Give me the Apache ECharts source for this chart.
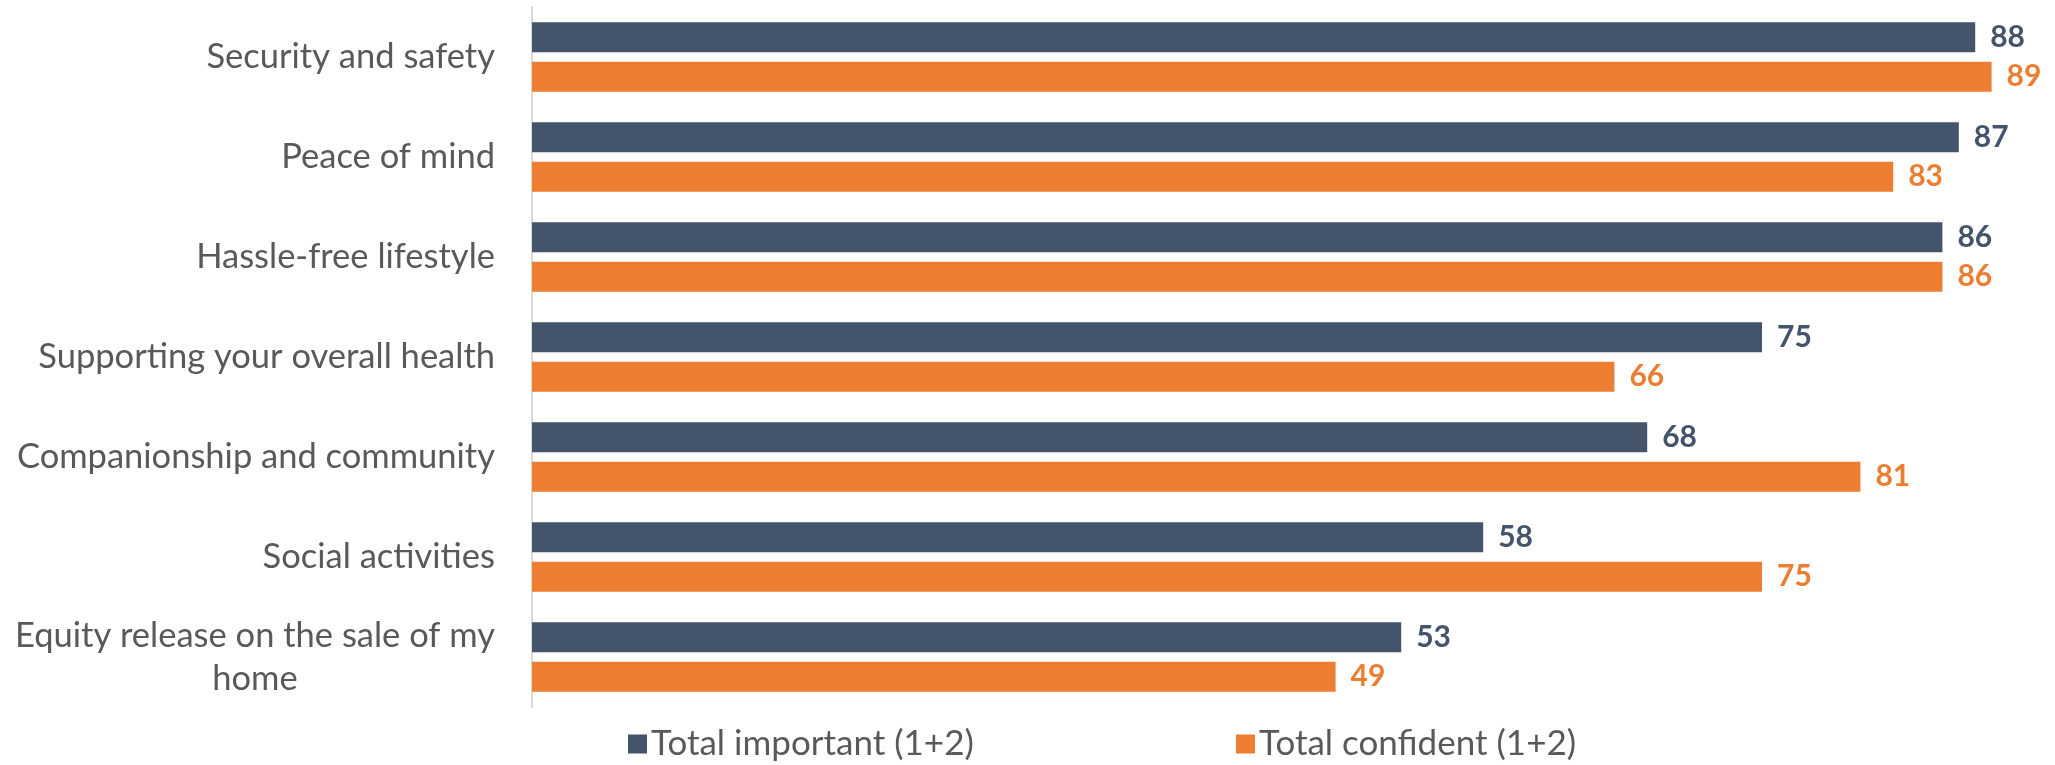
<!DOCTYPE html>
<html>
<head>
<meta charset="utf-8">
<script src="https://cdn.jsdelivr.net/npm/echarts@6/dist/echarts.min.js"></script>
<style>
html,body{margin:0;padding:0;background:#fff;}
#chart{width:2055px;height:765px;}
</style>
</head>
<body>
<div id="chart"></div>
<script>
const categories = [
  'Security and safety',
  'Peace of mind',
  'Hassle-free lifestyle',
  'Supporting your overall health',
  'Companionship and community',
  'Social activities',
  'Equity release on the sale of my\nhome'
];
const seriesNames = ['Total important (1+2)', 'Total confident (1+2)'];
const important = [88, 87, 86, 75, 68, 58, 53];
const confident = [89, 83, 86, 66, 81, 75, 49];

const DARK = '#44546A';
const ORANGE = '#ED7D31';
const TEXT = '#595959';
const FONT = 'Lato';
const CAT_SIZE = 34.5;

// measure text width so multi-line labels can be centred line-by-line while the block stays right-aligned
const mctx = document.createElement('canvas').getContext('2d');
mctx.font = CAT_SIZE + 'px ' + FONT;
function blockWidth(s) {
  return Math.max.apply(null, s.split('\n').map(function (l) { return mctx.measureText(l).width; }));
}
const catData = categories.map(function (c) {
  if (c.indexOf('\n') < 0) return c;
  return {value: c, textStyle: {align: 'center', padding: [0, blockWidth(c), 0, 0]}};
});

const chart = echarts.init(document.getElementById('chart'), null, {renderer: 'canvas'});
chart.setOption({
  animation: false,
  backgroundColor: '#ffffff',
  grid: {left: 532, right: 47, top: 7, bottom: 58, containLabel: false},
  xAxis: {
    type: 'value', min: 0, max: 90,
    show: false,
    splitLine: {show: false}
  },
  yAxis: {
    type: 'category',
    data: catData,
    inverse: true,
    axisLine: {show: true, lineStyle: {color: '#D9D9D9', width: 2}},
    axisTick: {show: false},
    axisLabel: {
      interval: 0,
      margin: 37,
      color: TEXT,
      fontFamily: FONT,
      fontSize: CAT_SIZE,
      lineHeight: 43,
      align: 'right'
    }
  },
  legend: [
    {
      data: [seriesNames[0]],
      left: 623, top: 721,
      icon: 'rect', itemWidth: 19, itemHeight: 19, itemGap: 0,
      textStyle: {color: TEXT, fontFamily: FONT, fontSize: 35, lineHeight: 36, padding: [0, 0, 0, -1]}
    },
    {
      data: [seriesNames[1]],
      left: 1231, top: 721,
      icon: 'rect', itemWidth: 19, itemHeight: 19, itemGap: 0,
      textStyle: {color: TEXT, fontFamily: FONT, fontSize: 35, lineHeight: 36, padding: [0, 0, 0, -1]}
    }
  ],
  series: [
    {
      name: seriesNames[0], type: 'bar', data: important,
      barWidth: 30, barGap: '32%',
      itemStyle: {color: DARK},
      label: {show: true, position: 'right', distance: 15, color: DARK, fontWeight: 'bold', fontFamily: FONT, fontSize: 30}
    },
    {
      name: seriesNames[1], type: 'bar', data: confident,
      barWidth: 30, barGap: '32%',
      itemStyle: {color: ORANGE},
      label: {show: true, position: 'right', distance: 15, color: ORANGE, fontWeight: 'bold', fontFamily: FONT, fontSize: 30}
    }
  ]
});
</script>
</body>
</html>
